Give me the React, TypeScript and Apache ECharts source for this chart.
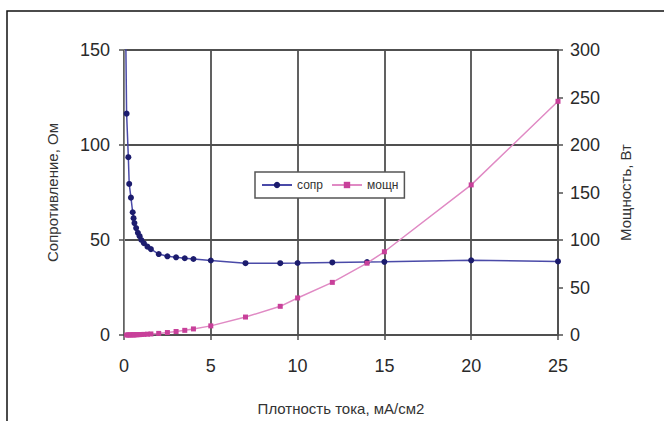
import React, { useEffect, useRef } from "react";
import * as echarts from "echarts";

const currentDensity = [0.05, 0.15, 0.25, 0.3, 0.4, 0.5, 0.55, 0.6, 0.7, 0.8, 0.9, 1.0, 1.15, 1.35, 1.55, 2, 2.5, 3, 3.5, 4, 5, 7, 9, 10, 12, 14, 15, 20, 25];
const resistance = [200, 116.5, 93.6, 79.5, 72.3, 64.6, 61.5, 58.9, 56.3, 53.8, 52, 50, 48.3, 46.5, 45.2, 42.6, 41.4, 40.9, 40.4, 40, 39.2, 37.8, 37.8, 37.9, 38.2, 38.4, 38.5, 39.3, 38.7];
const powerDensity = [0.15, 0.25, 0.3, 0.4, 0.5, 0.55, 0.6, 0.7, 0.8, 0.9, 1.0, 1.15, 1.35, 1.55, 2, 2.5, 3, 3.5, 4, 5, 7, 9, 10, 12, 14, 15, 20, 25];
const power = [0.03, 0.06, 0.07, 0.12, 0.16, 0.19, 0.21, 0.28, 0.34, 0.42, 0.5, 0.64, 0.85, 1.1, 1.7, 2.6, 3.7, 4.9, 6.4, 9.6, 18.9, 30.2, 39, 55.4, 75.6, 87.6, 158, 246];

const seriesNames = ["сопр", "мощн"];
const xTitle = "Плотность тока, мА/см2";
const yLeftTitle = "Сопротивление, Ом";
const yRightTitle = "Мощность, Вт";

const FONT = "Liberation Sans, Arial, sans-serif";

export default function App() {
  const ref = useRef<HTMLDivElement>(null);
  useEffect(() => {
    if (!ref.current) return;
    const chart = echarts.init(ref.current, null, { renderer: "svg" });
    const gridColor = "#505050";
    const labelStyle = { fontSize: 18, color: "#2a2a2a", fontFamily: FONT };
    const titleStyle = { fontSize: 15, color: "#333", fontFamily: FONT };
    chart.setOption({
      animation: false,
      backgroundColor: "#ffffff",
      textStyle: { fontFamily: FONT },
      graphic: [
        {
          type: "rect",
          shape: { x: 7, y: 11, width: 700, height: 500 },
          style: { fill: "none", stroke: "#111", lineWidth: 1.5 },
          silent: true,
        },
      ],
      grid: { left: 124, right: 106, top: 50, bottom: 80 },
      legend: {
        left: 255,
        top: 172,
        padding: [7, 6, 7, 6],
        itemGap: 8,
        itemWidth: 30,
        itemHeight: 8,
        borderColor: "#555",
        borderWidth: 1.5,
        backgroundColor: "#fff",
        textStyle: { fontSize: 12, color: "#333", fontFamily: FONT },
        data: seriesNames,
      },
      xAxis: {
        type: "value",
        min: 0,
        max: 25,
        interval: 5,
        name: xTitle,
        nameLocation: "middle",
        nameGap: 66,
        nameTextStyle: titleStyle,
        axisLine: { show: true, lineStyle: { color: gridColor, width: 1.8 } },
        axisTick: { show: true, length: 5, inside: false, lineStyle: { color: gridColor, width: 1.5 } },
        axisLabel: { ...labelStyle, margin: 22 },
        splitLine: { show: true, lineStyle: { color: gridColor, width: 1.8 } },
      },
      yAxis: [
        {
          type: "value",
          min: 0,
          max: 150,
          interval: 50,
          position: "left",
          name: yLeftTitle,
          nameLocation: "middle",
          nameGap: 64,
          nameRotate: 90,
          nameTextStyle: titleStyle,
          axisLine: { show: true, lineStyle: { color: "#888", width: 1 } },
          axisTick: { show: true, length: 5, lineStyle: { color: gridColor, width: 1.5 } },
          axisLabel: { ...labelStyle, margin: 14 },
          splitLine: { show: true, lineStyle: { color: gridColor, width: 1.8 } },
        },
        {
          type: "value",
          min: 0,
          max: 300,
          interval: 50,
          position: "right",
          name: yRightTitle,
          nameLocation: "middle",
          nameGap: 60,
          nameRotate: 90,
          nameTextStyle: titleStyle,
          axisLine: { show: true, lineStyle: { color: gridColor, width: 1.8 } },
          axisTick: { show: true, length: 5, lineStyle: { color: gridColor, width: 1.5 } },
          axisLabel: { ...labelStyle, margin: 12 },
          splitLine: { show: false },
        },
      ],
      series: [
        {
          name: seriesNames[0],
          type: "line",
          yAxisIndex: 0,
          clip: true,
          data: currentDensity.map((x, i) => [x, resistance[i]]),
          symbol: "circle",
          symbolSize: 6,
          lineStyle: { color: "#4a4aa8", width: 1.5 },
          itemStyle: { color: "#1c1c6e" },
          z: 3,
        },
        {
          name: seriesNames[1],
          type: "line",
          yAxisIndex: 1,
          clip: true,
          data: powerDensity.map((x, i) => [x, power[i]]),
          symbol: "rect",
          symbolSize: 5,
          lineStyle: { color: "#e08ac4", width: 1.5 },
          itemStyle: { color: "#c8409a" },
          z: 4,
        },
      ],
    });
    return () => chart.dispose();
  }, []);
  return <div ref={ref} style={{ width: 664, height: 421, position: "absolute", left: 0, top: 0 }} />;
}
